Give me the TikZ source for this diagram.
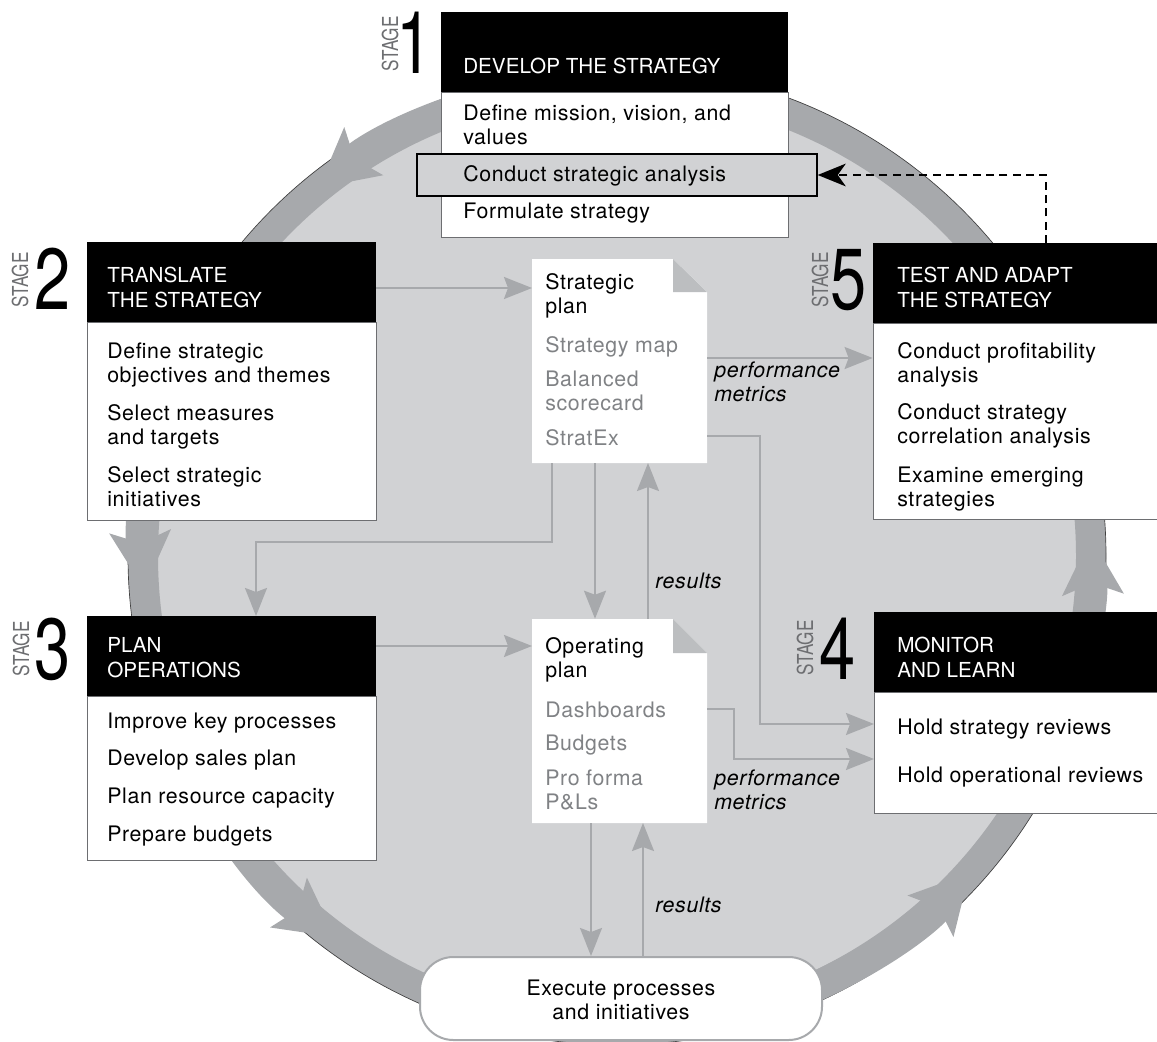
\documentclass[tikz,border=0pt]{standalone}
\usepackage{fontspec}
\setmainfont{TeX Gyre Heros}
\newfontfamily\bodyfam[LetterSpace=3]{TeX Gyre Heros}
\newfontfamily\hdrfam{TeX Gyre Heros}
\newcommand\mybody{\bodyfam\fontsize{16}{18}\selectfont}
\newcommand\myhdr{\hdrfam\fontsize{15.5}{18.5}\selectfont}
\usetikzlibrary{arrows.meta,fit,calc}
\definecolor{bgc}{HTML}{D1D2D4}
\definecolor{ringc}{HTML}{A7A9AC}
\definecolor{stagec}{HTML}{6D6E71}
\definecolor{doctext}{HTML}{808285}
\definecolor{foldc}{HTML}{BCBEC0}
\tikzset{
 hdr/.style={fill=black, inner sep=0pt},
 bodybox/.style={fill=white, draw=stagec, line width=0.6pt, inner sep=0pt},
 txt/.style={anchor=base west, inner sep=0pt, align=left, font=\mybody},
 htxt/.style={anchor=base west, inner sep=0pt, align=left, text=white, font=\myhdr},
 dtxt/.style={txt, text=doctext},
 itxt/.style={txt, font=\mybody\itshape},
 conn/.style={draw=ringc, line width=1.5pt, -{Stealth[length=21pt,width=16.5pt,inset=3pt]}},
 dashconn/.style={draw=black, line width=1.5pt, dash pattern=on 6pt off 4pt, -{Stealth[length=21pt,width=17pt,inset=6pt]}},
 ringarrow/.style={draw=ringc, line width=22.5pt, -{Stealth[length=43.5pt,width=46.5pt,inset=9pt,line width=0pt]}},
 stagelbl/.style={rotate=90, inner sep=0pt, text=stagec, font=\hdrfam\fontsize{16.5}{16.5}\selectfont},
 stagenum/.style={anchor=base, inner sep=0pt, font=\hdrfam\fontsize{65}{65}\selectfont},
}
\begin{document}
\begin{tikzpicture}[x=0.75pt,y=-0.75pt]
\useasboundingbox (0,0) rectangle (1157,1042);
\clip (0,0) rectangle (1157,1042);
\coordinate (C) at (617,556);
% big circle with ring
\fill[bgc] (C) circle[radius=489];
\draw[ringc, line width=22.5pt] (C) circle[radius=474];
\draw[black!75, line width=0.5pt] (C) circle[radius=489];
% ring arrowheads
\draw[ringarrow] ($(C)+(-100:474)$) arc[start angle=-100, end angle=-129, radius=474];
\draw[ringarrow] ($(C)+(-150:474)$) arc[start angle=-150, end angle=-184, radius=474];
\draw[ringarrow] ($(C)+(-200:474)$) arc[start angle=-200, end angle=-233.5, radius=474];
\draw[ringarrow] ($(C)+(-290:474)$) arc[start angle=-290, end angle=-318, radius=474];
\draw[ringarrow] ($(C)+(-335:474)$) arc[start angle=-335, end angle=-362.3, radius=474];

% Stage 1
\node[hdr, fit={(441,12) (788,92)}] (s1h) {};
\node[bodybox, fit={(441,92) (788,237)}] (s1b) {};
\node[fill=bgc, draw=black, line width=1.1pt, inner sep=0pt, fit={(417,154) (817,196)}] (hl) {};
\node[htxt] (t1h) at (463,73) {DEVELOP THE STRATEGY};
\node[txt] (t1a) at (463,144) {Define mission, vision, and\\values};
\node[txt] (t1b) at (463,181) {Conduct strategic analysis};
\node[txt] (t1c) at (463,218) {Formulate strategy};
\node[stagelbl] (st1) at (390,44) {\scalebox{0.78}[1]{STAGE}};
\node[stagenum] (n1) at (415,73) {\scalebox{0.75}[1]{1}};

% Stage 2
\node[hdr, fit={(87,242) (376,322)}] (s2h) {};
\node[bodybox, fit={(87,322) (376,520)}] (s2b) {};
\node[htxt] (t2h) at (107,307) {TRANSLATE\\THE STRATEGY};
\node[txt] (t2a) at (107,382) {Define strategic\\objectives and themes};
\node[txt] (t2b) at (107,444) {Select measures\\and targets};
\node[txt] (t2c) at (107,506) {Select strategic\\initiatives};
\node[stagelbl] (st2) at (20,280) {\scalebox{0.78}[1]{STAGE}};
\node[stagenum] (n2) at (53,309) {\scalebox{0.75}[1]{2}};

% Stage 3
\node[hdr, fit={(87,616) (376,696)}] (s3h) {};
\node[bodybox, fit={(87,696) (376,860)}] (s3b) {};
\node[htxt] (t3h) at (107,677) {PLAN\\OPERATIONS};
\node[txt] (t3a) at (107,728) {Improve key processes};
\node[txt] (t3b) at (107,765) {Develop sales plan};
\node[txt] (t3c) at (107,803) {Plan resource capacity};
\node[txt] (t3d) at (107,841) {Prepare budgets};
\node[stagelbl] (st3) at (21,649) {\scalebox{0.78}[1]{STAGE}};
\node[stagenum] (n3) at (53,679) {\scalebox{0.75}[1]{3}};

% Stage 5
\node[hdr, fit={(873,243) (1165,323)}] (s5h) {};
\node[bodybox, fit={(873,323) (1165,519)}] (s5b) {};
\node[htxt] (t5h) at (897,307) {TEST AND ADAPT\\THE STRATEGY};
\node[txt] (t5a) at (897,382) {Conduct profitability\\analysis};
\node[txt] (t5b) at (897,443) {Conduct strategy\\correlation analysis};
\node[txt] (t5c) at (897,506) {Examine emerging\\strategies};
\node[stagelbl] (st5) at (820,280) {\scalebox{0.78}[1]{STAGE}};
\node[stagenum] (n5) at (849,309) {\scalebox{0.75}[1]{5}};

% Stage 4
\node[hdr, fit={(874,612) (1165,692)}] (s4h) {};
\node[bodybox, fit={(874,692) (1165,813)}] (s4b) {};
\node[htxt] (t4h) at (897,677) {MONITOR\\AND LEARN};
\node[txt] (t4a) at (897,734) {Hold strategy reviews};
\node[txt] (t4b) at (897,782) {Hold operational reviews};
\node[stagelbl] (st4) at (805,648) {\scalebox{0.78}[1]{STAGE}};
\node[stagenum] (n4) at (838,679) {\scalebox{0.75}[1]{4}};

% Strategic plan document
\fill[white] (532,259) -- (673,259) -- (707,292) -- (707,463) -- (532,463) -- cycle;
\fill[foldc] (673,259) -- (673,292) -- (707,292) -- cycle;
\node[inner sep=0pt, fit={(532,259) (707,463)}] (sp) {};
\node[txt] (tsp) at (545,313) {Strategic\\plan};
\node[dtxt] (tsp1) at (545,352) {Strategy map};
\node[dtxt] (tsp2) at (545,410) {Balanced\\scorecard};
\node[dtxt] (tsp3) at (545,445) {StratEx};

% Operating plan document
\fill[white] (532,619) -- (673,619) -- (707,653) -- (707,823) -- (532,823) -- cycle;
\fill[foldc] (673,619) -- (673,653) -- (707,653) -- cycle;
\node[inner sep=0pt, fit={(532,619) (707,823)}] (op) {};
\node[txt] (top) at (545,677) {Operating\\plan};
\node[dtxt] (top1) at (545,717) {Dashboards};
\node[dtxt] (top2) at (545,750) {Budgets};
\node[dtxt] (top3) at (545,809) {Pro forma\\P\&Ls};

% Execute box
\node[draw=ringc, line width=1.5pt, fill=white, rounded corners=25pt, inner sep=0pt, fit={(420,957) (822,1040)}] (ex) {};
\node[anchor=base, inner sep=0pt, align=center, font=\mybody] (tex) at (621,1019) {Execute processes\\and initiatives};

% connector anchor points
\coordinate (sp-w) at (532,288);
\coordinate (sp-e1) at (707,358);
\coordinate (sp-e2) at (707,436);
\coordinate (sp-s1) at (552,463);
\coordinate (sp-s2) at (595,463);
\coordinate (sp-s3) at (648,463);
\coordinate (s3-n) at (256,616);
\coordinate (op-w) at (532,646);
\coordinate (op-e) at (707,709);
\coordinate (op-s1) at (591,823);
\coordinate (op-s2) at (643,823);
\coordinate (s4-a) at (874,724);
\coordinate (s4-b) at (874,759);
\coordinate (s5-top) at (1046,243);

% connectors
\draw[conn] (s2h.east |- sp-w) -- (sp-w);
\draw[conn] (sp-e1) -- (sp-e1 -| s5b.west);
\draw[conn] (sp-s1) -- ++(0,79) -| (s3-n);
\draw[conn] (sp-s2) -- (sp-s2 |- op.north);
\draw[conn] (sp-s3 |- op.north) -- (sp-s3);
\draw[conn] (sp-e2) -- ++(53,0) |- (s4-a);
\draw[conn] (op-e) -- ++(27,0) |- (s4-b);
\draw[conn] (s3h.east |- op-w) -- (op-w);
\draw[conn] (op-s1) -- (op-s1 |- ex.north);
\draw[conn] (op-s2 |- ex.north) -- (op-s2);
\draw[dashconn] (s5-top) |- (hl.east);

% connector labels
\node[itxt] (l1) at (714,401) {performance\\metrics};
\node[itxt] (l2) at (655,588) {results};
\node[itxt] (l3) at (714,809) {performance\\metrics};
\node[itxt] (l4) at (655,912) {results};
\end{tikzpicture}
\end{document}
